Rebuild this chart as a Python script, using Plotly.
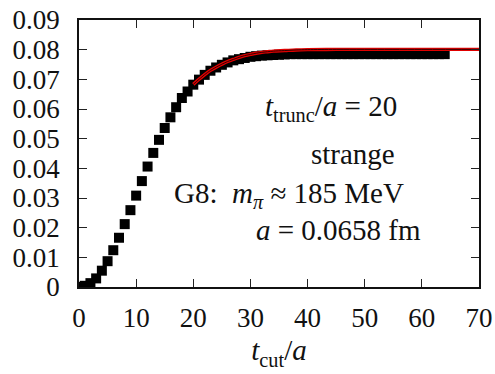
import plotly.graph_objects as go

# Lattice data: strange-quark contribution vs. cut time
t_cut = list(range(0, 65))
signal = [
    0.0000, 0.0004, 0.0013, 0.0029, 0.0055, 0.0087, 0.0124, 0.0166, 0.0212, 0.0259,
    0.0308, 0.0357, 0.0406, 0.0452, 0.0496, 0.0536, 0.0572, 0.0606, 0.0637, 0.0659,
    0.0682, 0.0699, 0.0715, 0.0729, 0.0740, 0.0749, 0.0757, 0.0764, 0.0768, 0.0772,
    0.0776, 0.0778, 0.0780, 0.0781, 0.0782, 0.0783, 0.0784, 0.0785, 0.0785, 0.0785,
    0.0785, 0.0785, 0.0785, 0.0785, 0.0785, 0.0785, 0.0785, 0.0785, 0.0785, 0.0785,
    0.0785, 0.0785, 0.0785, 0.0785, 0.0785, 0.0785, 0.0785, 0.0785, 0.0785, 0.0785,
    0.0785, 0.0785, 0.0785, 0.0785, 0.0785,
]

# Fit curve (central value) from t_trunc onwards
fit_t = [20, 21, 22, 23, 24, 25, 26, 27, 28, 29, 30, 31, 32, 33, 34, 36, 38, 40, 45, 50, 60, 70]
fit_v = [0.0683, 0.0700, 0.0716, 0.0730, 0.0741, 0.0751, 0.0760, 0.0767, 0.0774, 0.0780,
         0.0784, 0.0788, 0.0791, 0.0793, 0.0795, 0.0797, 0.0799, 0.0800, 0.0801, 0.0801,
         0.0801, 0.0801]

x_ticks = [0, 10, 20, 30, 40, 50, 60, 70]
y_ticks = [0, 0.01, 0.02, 0.03, 0.04, 0.05, 0.06, 0.07, 0.08, 0.09]
y_tick_text = ["0", "0.01", "0.02", "0.03", "0.04", "0.05", "0.06", "0.07", "0.08", "0.09"]

FONT = "Liberation Serif"
FS = 27      # tick labels
FS_TXT = 29  # axis title and in-plot labels

fig = go.Figure()
fig.add_trace(go.Scatter(
    x=t_cut, y=signal, mode="markers",
    marker=dict(symbol="square", size=10, color="black", line=dict(width=0)),
    showlegend=False,
))
fig.add_trace(go.Scatter(
    x=fit_t, y=fit_v, mode="lines", line=dict(color="#e00000", width=3.4, shape="spline"),
    showlegend=False,
))
fig.add_trace(go.Scatter(
    x=fit_t, y=fit_v, mode="lines", line=dict(color="#300000", width=1, shape="spline"),
    showlegend=False,
))

axis_common = dict(
    showgrid=False, zeroline=False, showline=True, linecolor="#111", linewidth=1.5,
    mirror="ticks", ticks="inside", ticklen=8, tickwidth=1.2, tickcolor="#222",
    tickfont=dict(family=FONT, size=FS, color="#111"), automargin=False,
)

fig.update_xaxes(range=[0, 70], tickvals=x_ticks, ticklabelstandoff=6,
                 title=dict(text="<i>t</i><sub>cut</sub>/<i>a</i>",
                            font=dict(family=FONT, size=FS_TXT, color="#111"), standoff=8),
                 **axis_common)
fig.update_yaxes(range=[0, 0.09], tickvals=y_ticks, ticktext=y_tick_text, ticklabelstandoff=12,
                 **axis_common)

ann_font = dict(family=FONT, size=FS_TXT, color="#111")
texts = [
    ("<i>t</i><sub>trunc</sub>/<i>a</i> = 20", 0.63, 0.669),
    ("strange", 0.685, 0.50),
    ("G8:  <i>m</i><sub><i>π</i></sub> ≈ 185 MeV", 0.524, 0.345),
    ("<i>a</i> = 0.0658 fm", 0.649, 0.214),
]
for txt, ax_, ay_ in texts:
    fig.add_annotation(text=txt, x=ax_, y=ay_, xref="paper", yref="paper",
                       showarrow=False, xanchor="center", yanchor="middle",
                       borderpad=0, font=ann_font)

fig.update_layout(
    width=495, height=374,
    margin=dict(l=79, r=16, t=20, b=87),
    paper_bgcolor="white", plot_bgcolor="white",
)

fig.write_html("out.html")
